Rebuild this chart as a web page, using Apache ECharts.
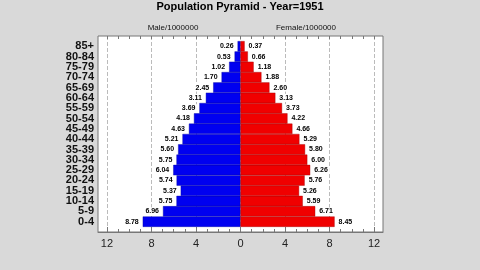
<!DOCTYPE html>
<html><head><meta charset="utf-8">
<script src="https://cdn.jsdelivr.net/npm/echarts@6/dist/echarts.min.js"></script>
<style>html,body{margin:0;padding:0;background:#d9d9d9}#c{width:480px;height:270px}</style>
</head><body><div id="c"></div>
<script>
const ageGroups = ['0-4','5-9','10-14','15-19','20-24','25-29','30-34','35-39','40-44','45-49','50-54','55-59','60-64','65-69','70-74','75-79','80-84','85+'];
const male = [8.78,6.96,5.75,5.37,5.74,6.04,5.75,5.60,5.21,4.63,4.18,3.69,3.11,2.45,1.70,1.02,0.53,0.26];
const female = [8.45,6.71,5.59,5.26,5.76,6.26,6.00,5.80,5.29,4.66,4.22,3.73,3.13,2.60,1.88,1.18,0.66,0.37];
const xTicks = [-12,-8,-4,0,4,8,12];
const titleText = 'Population Pyramid - Year=1951';
const maleLabel = 'Male/1000000';
const femaleLabel = 'Female/1000000';

const cats = [''].concat(ageGroups, ['']);
const maleData = [null].concat(male.map(v => -v), [null]);
const femaleData = [null].concat(female, [null]);
const minorTicks = [];
for (let i = -12; i <= 12; i++) minorTicks.push(i);

const chart = echarts.init(document.getElementById('c'));
const font = 'Liberation Sans, Arial, sans-serif';
const lbl = {
  show: true, fontSize: 7, fontWeight: 'bold', color: '#000', fontFamily: font,
  backgroundColor: '#fff', padding: [1, 2, 0, 2], distance: 2,
  formatter: p => Math.abs(p.value).toFixed(2)
};
const baseX = {
  type: 'value', min: -12.8, max: 12.8, gridIndex: 0
};
chart.setOption({
  backgroundColor: '#d9d9d9',
  animation: false,
  graphic: [
    {type: 'text', left: 'center', top: 1, style: {text: titleText, fontSize: 11, fontWeight: 'bold', fill: '#000', fontFamily: font}},
    {type: 'text', x: 173, y: 28, style: {text: maleLabel, fontSize: 8, fill: '#111', fontFamily: font, align: 'center', verticalAlign: 'middle'}},
    {type: 'text', x: 306, y: 28, style: {text: femaleLabel, fontSize: 8, fill: '#111', fontFamily: font, align: 'center', verticalAlign: 'middle'}}
  ],
  grid: {left: 98, right: 97, top: 36, bottom: 38, show: true, backgroundColor: '#fff', borderColor: '#777', borderWidth: 1},
  xAxis: [
    Object.assign({}, baseX, {
      position: 'bottom',
      axisLine: {show: true, lineStyle: {color: '#777'}},
      axisTick: {show: true, inside: true, length: 5, customValues: xTicks, lineStyle: {color: '#777'}},
      axisLabel: {customValues: xTicks, formatter: v => String(Math.abs(v)), fontSize: 11, color: '#222', fontFamily: font, margin: 6},
      splitLine: {show: true, lineStyle: {type: 'dashed', color: '#bbb'}}
    }),
    Object.assign({}, baseX, {
      position: 'bottom',
      axisLine: {show: false},
      axisTick: {show: true, inside: true, length: 3, customValues: minorTicks, lineStyle: {color: '#777'}},
      axisLabel: {show: false},
      splitLine: {show: false}
    }),
    Object.assign({}, baseX, {
      position: 'top',
      axisLine: {show: false},
      axisTick: {show: true, inside: true, length: 3, customValues: minorTicks, lineStyle: {color: '#777'}},
      axisLabel: {show: false},
      splitLine: {show: false}
    })
  ],
  yAxis: {
    type: 'category', data: cats, boundaryGap: false,
    axisLine: {show: false}, axisTick: {show: false},
    axisLabel: {fontSize: 11, fontWeight: 'bold', color: '#111', fontFamily: font, margin: 4, interval: 0}
  },
  series: [
    {type: 'bar', name: 'Male', data: maleData, barWidth: 10.4, barGap: '-100%', xAxisIndex: 0,
     itemStyle: {color: '#0000f0', borderColor: '#0000a0', borderWidth: 0.4},
     label: Object.assign({position: 'left'}, lbl)},
    {type: 'bar', name: 'Female', data: femaleData, barWidth: 10.4, barGap: '-100%', xAxisIndex: 0,
     itemStyle: {color: '#f00000', borderColor: '#a00000', borderWidth: 0.4},
     label: Object.assign({position: 'right'}, lbl)}
  ]
});
</script></body></html>
